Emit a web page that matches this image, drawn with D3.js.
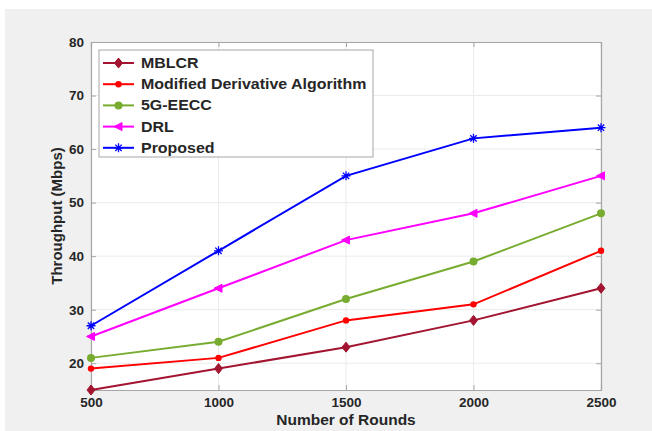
<!DOCTYPE html>
<html>
<head>
<meta charset="utf-8">
<script src="https://cdn.jsdelivr.net/npm/d3@7"></script>
<style>
  html, body { margin: 0; padding: 0; background: #ffffff; }
  svg { display: block; }
  text { font-family: Arial, "Liberation Sans", sans-serif; font-weight: bold; fill: #262626; }
</style>
</head>
<body>
<svg id="chart" width="652" height="431"></svg>
<script>
// Throughput per number of rounds, for each routing scheme
const rounds = [500, 1000, 1500, 2000, 2500];
const mblcr = [15, 19, 23, 28, 34];
const modifiedDerivative = [19, 21, 28, 31, 41];
const eecc5g = [21, 24, 32, 39, 48];
const drl = [25, 34, 43, 48, 55];
const proposed = [27, 41, 55, 62, 64];
const yTicks = [20, 30, 40, 50, 60, 70, 80];

const seriesNames = ["MBLCR", "Modified Derivative Algorithm", "5G-EECC", "DRL", "Proposed"];
const seriesColors = ["#A2142F", "#FF0000", "#77AC30", "#FF00FF", "#0000FF"];
const seriesMarkers = ["diamond", "dot", "circle", "triangle", "star"];
const seriesValues = [mblcr, modifiedDerivative, eecc5g, drl, proposed];

const svg = d3.select("#chart");
const W = 652, H = 431;
const plot = { left: 91, top: 42, right: 601, bottom: 390 };

// figure background
svg.append("rect").attr("x", 5).attr("y", 9).attr("width", W - 5).attr("height", H - 9).attr("fill", "#f0f0f0");

const x = d3.scaleLinear().domain([500, 2500]).range([plot.left, plot.right]);
const y = d3.scaleLinear().domain([15, 80]).range([plot.bottom, plot.top]);

// axes area
svg.append("rect")
  .attr("x", plot.left).attr("y", plot.top)
  .attr("width", plot.right - plot.left).attr("height", plot.bottom - plot.top)
  .attr("fill", "#ffffff");

// grid
const grid = svg.append("g").attr("stroke", "#ebebeb").attr("stroke-width", 1);
grid.selectAll("line.gx").data(rounds).join("line")
  .attr("x1", d => x(d)).attr("x2", d => x(d))
  .attr("y1", plot.top).attr("y2", plot.bottom);
grid.selectAll("line.gy").data(yTicks).join("line")
  .attr("x1", plot.left).attr("x2", plot.right)
  .attr("y1", d => y(d)).attr("y2", d => y(d));

// axes with inward ticks
const xAxis = svg.append("g").attr("transform", `translate(0,${plot.bottom})`)
  .call(d3.axisBottom(x).tickValues(rounds).tickSize(-5).tickPadding(10).tickFormat(d3.format("d")));
const yAxis = svg.append("g").attr("transform", `translate(${plot.left},0)`)
  .call(d3.axisLeft(y).tickValues(yTicks).tickSize(-5).tickPadding(7));
const xTop = svg.append("g").attr("transform", `translate(0,${plot.top})`)
  .call(d3.axisTop(x).tickValues(rounds).tickSize(-5).tickFormat(""));
const yRight = svg.append("g").attr("transform", `translate(${plot.right},0)`)
  .call(d3.axisRight(y).tickValues(yTicks).tickSize(-5).tickFormat(""));

[xAxis, yAxis, xTop, yRight].forEach(g => {
  g.select(".domain").attr("stroke", "#a6a6a6").attr("stroke-width", 1.2);
  g.selectAll(".tick line").attr("stroke", "#a6a6a6");
  g.selectAll(".tick text").attr("font-size", 13.5).attr("font-weight", "bold")
    .attr("font-family", "Arial, 'Liberation Sans', sans-serif").attr("fill", "#262626");
});
xAxis.selectAll(".tick text").attr("dy", "0.55em");

// axis labels
svg.append("text").attr("transform", `translate(${(plot.left + plot.right) / 2},425) scale(1.07,1)`)
  .attr("text-anchor", "middle").attr("font-size", 14.5).text("Number of Rounds");
svg.append("text")
  .attr("transform", `translate(62,${(plot.top + plot.bottom) / 2}) rotate(-90)`)
  .attr("text-anchor", "middle").attr("font-size", 15).text("Throughput (Mbps)");

// marker drawing
function drawMarker(g, type, color, cx, cy) {
  if (type === "diamond") {
    g.append("path").attr("d", `M${cx},${cy - 5}L${cx + 4},${cy}L${cx},${cy + 5}L${cx - 4},${cy}Z`)
      .attr("fill", color).attr("stroke", color);
  } else if (type === "dot") {
    g.append("circle").attr("cx", cx).attr("cy", cy).attr("r", 3.2).attr("fill", color);
  } else if (type === "circle") {
    g.append("circle").attr("cx", cx).attr("cy", cy).attr("r", 4).attr("fill", color);
  } else if (type === "triangle") {
    g.append("path").attr("d", `M${cx - 4.5},${cy}L${cx + 3.5},${cy - 4}L${cx + 3.5},${cy + 4}Z`)
      .attr("fill", color).attr("stroke", color);
  } else if (type === "star") {
    const r = 4.5;
    const p = [];
    for (let k = 0; k < 4; k++) {
      const a = k * Math.PI / 4;
      p.push(`M${cx - r * Math.cos(a)},${cy - r * Math.sin(a)}L${cx + r * Math.cos(a)},${cy + r * Math.sin(a)}`);
    }
    g.append("path").attr("d", p.join("")).attr("stroke", color).attr("stroke-width", 1.3).attr("fill", "none");
  }
}

// series
const line = d3.line().x((d, i) => x(rounds[i])).y(d => y(d));
seriesValues.forEach((vals, s) => {
  const g = svg.append("g");
  g.append("path").datum(vals).attr("d", line)
    .attr("fill", "none").attr("stroke", seriesColors[s]).attr("stroke-width", 2);
  vals.forEach((v, i) => drawMarker(g, seriesMarkers[s], seriesColors[s], x(rounds[i]), y(v)));
});

// legend
const legend = svg.append("g");
legend.append("rect").attr("x", 99).attr("y", 50).attr("width", 274).attr("height", 107)
  .attr("fill", "#ffffff").attr("stroke", "#a6a6a6").attr("stroke-width", 1);
seriesNames.forEach((name, s) => {
  const ly = 63 + s * 21.2;
  legend.append("line").attr("x1", 103).attr("x2", 134).attr("y1", ly).attr("y2", ly)
    .attr("stroke", seriesColors[s]).attr("stroke-width", 2);
  drawMarker(legend, seriesMarkers[s], seriesColors[s], 118.5, ly);
  legend.append("text").attr("transform", `translate(141,${ly}) scale(1.14,1)`).attr("dy", "0.36em")
    .attr("font-size", 14).text(name);
});
</script>
</body>
</html>
